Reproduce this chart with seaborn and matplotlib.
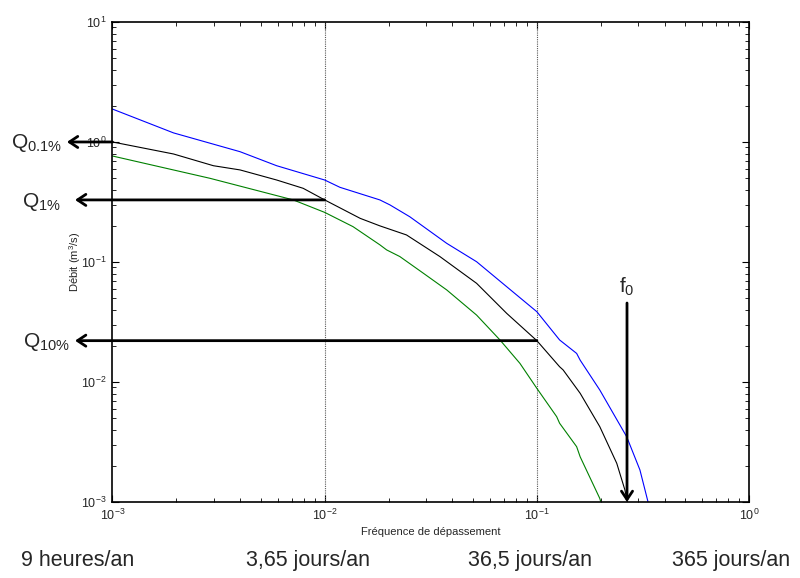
import numpy as np
import pandas as pd
import matplotlib
matplotlib.use('Agg')
import matplotlib.pyplot as plt
import seaborn as sns

# curves (frequency of exceedance -> discharge m3/s)
freq_blue = [0.001, 0.00194, 0.00399, 0.00594, 0.01, 0.0118, 0.0182, 0.0203, 0.0252, 0.0376,
             0.052, 0.0721, 0.1, 0.128, 0.154, 0.16, 0.198, 0.265, 0.306, 0.331, 0.345]
q_blue = [1.88, 1.19, 0.83, 0.634, 0.482, 0.419, 0.329, 0.299, 0.238, 0.143,
          0.1005, 0.0622, 0.0385, 0.0224, 0.0173, 0.0152, 0.00857, 0.0035, 0.00185, 0.00107, 0.0008]

freq_black = [0.001, 0.00194, 0.00299, 0.00399, 0.00594, 0.00792, 0.01, 0.0147, 0.0182, 0.0243,
              0.0349, 0.052, 0.0721, 0.1, 0.128, 0.133, 0.16, 0.198, 0.238, 0.26, 0.27]
q_black = [1.0, 0.794, 0.634, 0.585, 0.482, 0.411, 0.329, 0.231, 0.2, 0.168,
           0.111, 0.0664, 0.0373, 0.0221, 0.0134, 0.0126, 0.00805, 0.00424, 0.0021, 0.00126, 0.0009]

freq_green = [0.001, 0.00288, 0.00711, 0.01, 0.0136, 0.0182, 0.0196, 0.0226, 0.0292, 0.0376,
              0.052, 0.067, 0.0832, 0.1, 0.124, 0.128, 0.154, 0.16, 0.198, 0.204]
q_green = [0.764, 0.498, 0.329, 0.259, 0.197, 0.139, 0.126, 0.111, 0.0805, 0.0585,
           0.0361, 0.0224, 0.0143, 0.00885, 0.00514, 0.00453, 0.00289, 0.00238, 0.00107, 0.00089]

# quantile annotations
q_labels = [r'$\mathregular{Q_{0.1\%}}$', r'$\mathregular{Q_{1\%}}$', r'$\mathregular{Q_{10\%}}$']
q_values = [1.0, 0.329, 0.0221]
q_freqs = [0.001, 0.01, 0.1]
f0 = 0.266
bottom_labels = ['9 heures/an', '3,65 jours/an', '36,5 jours/an', '365 jours/an']

sns.set_style('ticks')
plt.rcParams['font.family'] = ['Liberation Sans', 'DejaVu Sans']
plt.rcParams['mathtext.fontset'] = 'custom'
plt.rcParams['mathtext.rm'] = 'Liberation Sans'
plt.rcParams['mathtext.it'] = 'Liberation Sans:italic'
plt.rcParams['mathtext.bf'] = 'Liberation Sans:bold'
plt.rcParams['axes.unicode_minus'] = False

fig = plt.figure(figsize=(8, 5.78), dpi=100)
ax = fig.add_axes([0.1406, 0.1315, 0.7957, 0.8305])

for fx, fy, c in [(freq_blue, q_blue, '#0000ff'), (freq_black, q_black, 'k'), (freq_green, q_green, '#008000')]:
    sns.lineplot(x=fx, y=fy, color=c, lw=0.8, ax=ax, estimator=None, sort=False, legend=False)

ax.set_xscale('log')
ax.set_yscale('log')
ax.set_xlim(1e-3, 1)
ax.set_ylim(1e-3, 10)

for v in [0.01, 0.1]:
    ax.axvline(v, color='0.35', ls=(0, (1, 1)), lw=0.8, zorder=1)

ax.tick_params(which='both', direction='in', top=True, right=True, labelsize=9, color='k')
ax.tick_params(which='major', length=5, width=0.8, pad=4)
ax.tick_params(which='minor', length=3, width=0.6)
for s in ax.spines.values():
    s.set_linewidth(1.2)
    s.set_color('k')

ax.set_xlabel('Fréquence de dépassement', fontsize=8)
ax.set_ylabel(r'Débit (m$^3$/s)', fontsize=8)
ax.xaxis.set_label_coords(0.5, -0.052)
ax.yaxis.set_label_coords(-0.047, 0.5)

arrow = dict(arrowstyle='->,head_length=0.6,head_width=0.4', lw=2, color='k', shrinkA=0, shrinkB=0)
tips = [6.1e-4, 6.66e-4, 6.66e-4]
for qf, qv, tip in zip(q_freqs, q_values, tips):
    ax.annotate('', xy=(tip, qv), xytext=(qf, qv), arrowprops=arrow, annotation_clip=False)

q_text_x = [0.014, 0.027, 0.029]
q_text_y = [0.744, 0.642, 0.399]
for lab, tx, ty in zip(q_labels, q_text_x, q_text_y):
    fig.text(tx, ty, lab, fontsize=15, ha='left', va='baseline')

ax.annotate('', xy=(f0, 1e-3), xytext=(f0, 0.0455), arrowprops=arrow, annotation_clip=False)
ax.text(f0, 0.05, r'$\mathregular{f_0}$', fontsize=15, ha='center', va='bottom')

for lab, bx in zip(bottom_labels, [0.097, 0.385, 0.6625, 0.914]):
    fig.text(bx, 0.031, lab, fontsize=15.5, ha='center', va='center')

fig.savefig('out.png', dpi=100, facecolor='white')
